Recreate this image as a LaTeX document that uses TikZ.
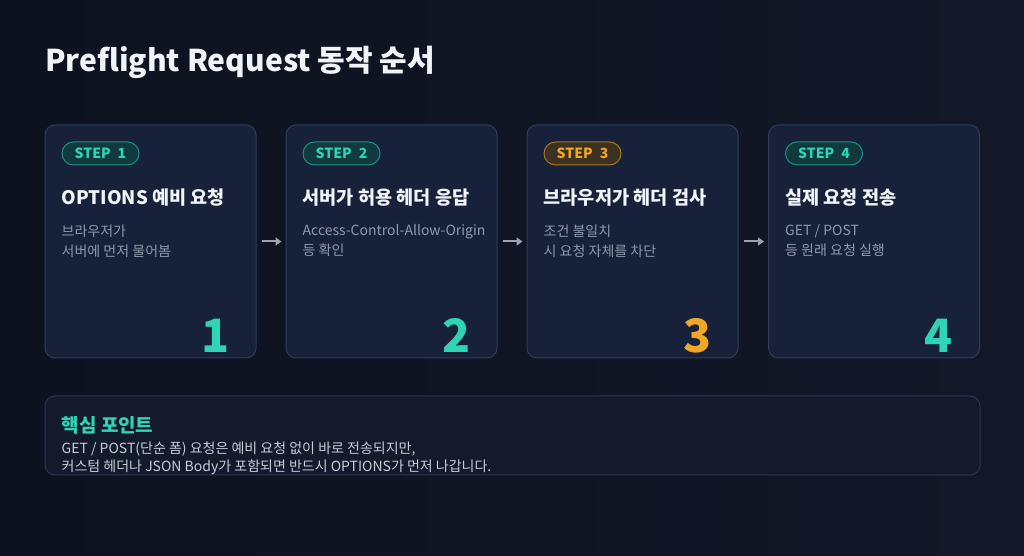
\documentclass[tikz,border=0pt]{standalone}
\usepackage{fontspec}
\setmainfont{Noto Sans CJK KR}
\usetikzlibrary{arrows.meta,positioning,calc}
\definecolor{bgdark}{HTML}{0D1220}
\definecolor{bglight}{HTML}{121827}
\definecolor{cardfill}{HTML}{17223A}
\definecolor{cardline}{HTML}{2E3D58}
\definecolor{teal}{HTML}{2FD3B5}
\definecolor{tealfill}{HTML}{113A3E}
\definecolor{tealline}{HTML}{1F8F80}
\definecolor{amber}{HTML}{F2A623}
\definecolor{amberfill}{HTML}{3B3222}
\definecolor{amberline}{HTML}{A87522}
\definecolor{headtext}{HTML}{F0F3F8}
\definecolor{desctext}{HTML}{8F99AB}
\definecolor{notefill}{HTML}{131A2B}
\definecolor{noteline}{HTML}{2A3550}
\definecolor{notetext}{HTML}{C7CCD6}
\definecolor{arrowgray}{HTML}{9AA3B2}

\begin{document}
\begin{tikzpicture}[x=1pt,y=1pt,
    card/.style = {draw=cardline, fill=cardfill, line width=1pt, rounded corners=10pt,
                   minimum width=211pt, minimum height=233pt, inner sep=0pt},
    badge/.style = {rounded corners=11.5pt, line width=1pt, minimum width=77pt, minimum height=23pt,
                    inner sep=0pt, font=\fontsize{14}{14}\selectfont\bfseries},
    tealbadge/.style = {badge, draw=tealline, fill=tealfill, text=teal},
    amberbadge/.style = {badge, draw=amberline, fill=amberfill, text=amber},
    cardtitle/.style = {text=headtext, inner sep=0pt, font=\fontsize{18.6}{18.6}\selectfont\bfseries},
    cardtext/.style = {text=desctext, inner sep=0pt, align=left, font=\fontsize{14}{20}\selectfont},
    bignum/.style = {inner sep=0pt, font=\fontsize{46}{46}\selectfont\bfseries},
    flow/.style = {draw=arrowgray, line width=2pt, shorten <=5pt, shorten >=4pt,
                   -{Triangle[length=6pt,width=8pt]}}]
    % background and frame
    \shade[left color=bgdark, right color=bglight] (0,0) rectangle (1024,556);
    \useasboundingbox (0,0) rectangle (1024,556);
    \node[anchor=west, text=headtext, inner sep=0pt, font=\fontsize{30}{30}\selectfont\bfseries] (title) at (45,494) {Preflight Request 동작 순서};
    % step cards
    \node[card] (c1) at (150.5,314.5) {};
    \node[card] (c2) at (391.5,314.5) {};
    \node[card] (c3) at (632.5,314.5) {};
    \node[card] (c4) at (874,314.5) {};
    % badges
    \node[tealbadge, anchor=north west] (b1) at ([xshift=17pt,yshift=-17pt]c1.north west) {STEP\hspace{0.5em}1};
    \node[tealbadge, anchor=north west] (b2) at ([xshift=17pt,yshift=-17pt]c2.north west) {STEP\hspace{0.5em}2};
    \node[amberbadge, anchor=north west] (b3) at ([xshift=17pt,yshift=-17pt]c3.north west) {STEP\hspace{0.5em}3};
    \node[tealbadge, anchor=north west] (b4) at ([xshift=17pt,yshift=-17pt]c4.north west) {STEP\hspace{0.5em}4};
    % headings
    \node[cardtitle, anchor=west] (t1) at ([xshift=17pt,yshift=-73pt]c1.north west) {OPTIONS 예비 요청};
    \node[cardtitle, anchor=west] (t2) at ([xshift=17pt,yshift=-73pt]c2.north west) {서버가 허용 헤더 응답};
    \node[cardtitle, anchor=west] (t3) at ([xshift=17pt,yshift=-73pt]c3.north west) {브라우저가 헤더 검사};
    \node[cardtitle, anchor=west] (t4) at ([xshift=17pt,yshift=-73pt]c4.north west) {실제 요청 전송};
    % descriptions
    \node[cardtext, anchor=north west] (d1) at ([xshift=17pt,yshift=-100pt]c1.north west) {브라우저가\\서버에 먼저 물어봄};
    \node[cardtext, anchor=north west] (d2) at ([xshift=17pt,yshift=-100pt]c2.north west) {Access-Control-Allow-Origin\\등 확인};
    \node[cardtext, anchor=north west] (d3) at ([xshift=17pt,yshift=-100pt]c3.north west) {조건 불일치\\시 요청 자체를 차단};
    \node[cardtext, anchor=north west] (d4) at ([xshift=17pt,yshift=-100pt]c4.north west) {GET / POST\\등 원래 요청 실행};
    % step numbers
    \node[bignum, text=teal, anchor=base east] (n1) at ([xshift=-27pt,yshift=6pt]c1.south east) {1};
    \node[bignum, text=teal, anchor=base east] (n2) at ([xshift=-27pt,yshift=6pt]c2.south east) {2};
    \node[bignum, text=amber, anchor=base east] (n3) at ([xshift=-27pt,yshift=6pt]c3.south east) {3};
    \node[bignum, text=teal, anchor=base east] (n4) at ([xshift=-27pt,yshift=6pt]c4.south east) {4};
    % arrows
    \draw[flow] (c1.east) -- (c2.west);
    \draw[flow] (c2.east) -- (c3.west);
    \draw[flow] (c3.east) -- (c4.west);
    % key point box
    \node[draw=noteline, fill=notefill, line width=1pt, rounded corners=10pt,
          minimum width=935pt, minimum height=79pt, inner sep=0pt] (note) at (512.5,120.5) {};
    \node[anchor=west, text=teal, inner sep=0pt, font=\fontsize{19}{19}\selectfont\bfseries] (notehead) at ([xshift=17pt,yshift=-30pt]note.north west) {핵심 포인트};
    \node[anchor=north west, text=notetext, inner sep=0pt, align=left, font=\fontsize{14}{18}\selectfont] (notebody) at ([xshift=17pt,yshift=-46pt]note.north west) {GET / POST(단순 폼) 요청은 예비 요청 없이 바로 전송되지만,\\커스텀 헤더나 JSON Body가 포함되면 반드시 OPTIONS가 먼저 나갑니다.};
\end{tikzpicture}
\end{document}
